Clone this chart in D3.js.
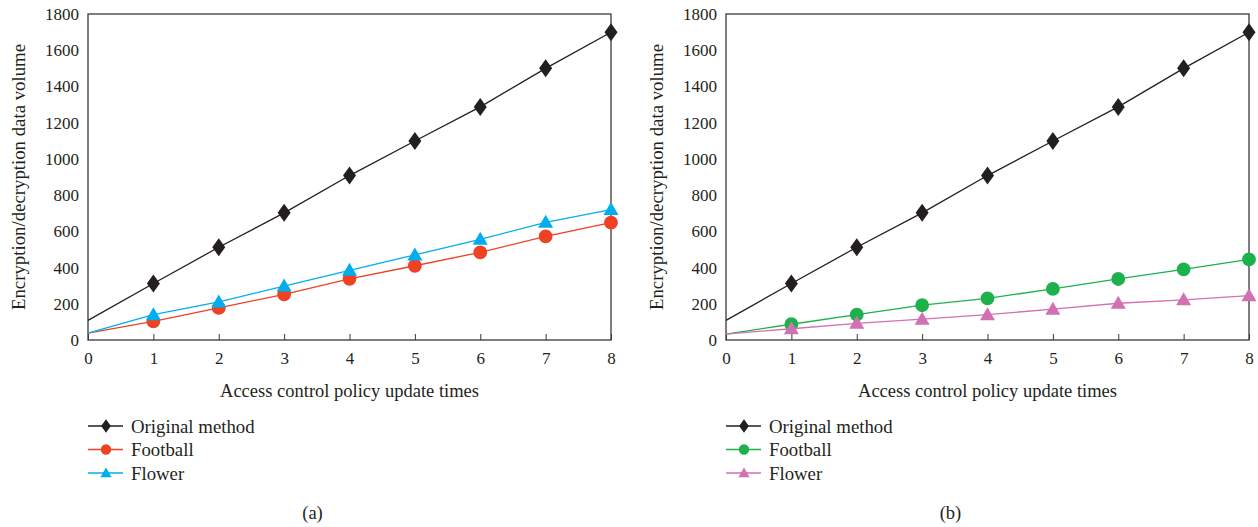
<!DOCTYPE html>
<html>
<head>
<meta charset="utf-8">
<script src="https://cdn.jsdelivr.net/npm/d3@7"></script>
<style>
  body { margin: 0; background: #fff; }
  svg text { font-family: "Liberation Serif", "Times New Roman", serif; fill: #231f20; }
</style>
</head>
<body>
<svg id="chart" width="1258" height="527"></svg>
<script>
// x values (update times), line runs from 0, markers from 1
const times = [0, 1, 2, 3, 4, 5, 6, 7, 8];
const yTicks = [0, 200, 400, 600, 800, 1000, 1200, 1400, 1600, 1800];

const originalA = [108, 312, 512, 702, 908, 1099, 1287, 1500, 1699];
const footballA = [38, 103, 177, 252, 338, 410, 484, 572, 648];
const flowerA   = [38, 140, 210, 298, 385, 470, 556, 650, 720];

const originalB = [108, 312, 512, 702, 908, 1099, 1287, 1500, 1699];
const footballB = [33, 87, 140, 192, 230, 282, 337, 390, 445];
const flowerB   = [33, 62, 92, 115, 140, 170, 203, 222, 245];

const seriesNames = ["Original method", "Football", "Flower"];

const svg = d3.select("#chart");

const shapes = {
  diamond: "M0,-9L6.5,0L0,9L-6.5,0Z",
  circle: d3.symbol().type(d3.symbolCircle).size(150)(),
  triangle: "M0,-7.5L7.5,5.5L-7.5,5.5Z"
};

function panel(left, right, series, caption) {
  const top = 14, bottom = 340;
  const x = d3.scaleLinear().domain([0, 8]).range([left, right]);
  const y = d3.scaleLinear().domain([0, 1800]).range([bottom, top]);
  const g = svg.append("g");

  // frame
  g.append("rect")
    .attr("x", left).attr("y", top)
    .attr("width", right - left).attr("height", bottom - top)
    .attr("fill", "none").attr("stroke", "#3a3a3a").attr("stroke-width", 1.3);

  // x ticks (inward)
  const xAxis = g.append("g")
    .attr("transform", `translate(0,${bottom})`)
    .call(d3.axisBottom(x).ticks(8).tickSize(-6).tickPadding(12));
  xAxis.select(".domain").remove();
  xAxis.selectAll("line").attr("stroke", "#3a3a3a");
  xAxis.selectAll("text").attr("font-size", 17).attr("font-family", "Liberation Serif").attr("fill", "#231f20");

  const yAxis = g.append("g")
    .attr("transform", `translate(${left},0)`)
    .call(d3.axisLeft(y).tickValues(yTicks).tickFormat(d3.format("d")).tickSize(0).tickPadding(9));
  yAxis.select(".domain").remove();
  yAxis.selectAll("text").attr("font-size", 17).attr("font-family", "Liberation Serif").attr("fill", "#231f20");

  const line = d3.line().x((d, i) => x(times[i])).y(d => y(d));

  series.forEach(s => {
    g.append("path")
      .datum(s.values)
      .attr("d", line)
      .attr("fill", "none")
      .attr("stroke", s.color)
      .attr("stroke-width", 1.3);
    g.selectAll(null)
      .data(s.values.slice(1))
      .enter()
      .append("path")
      .attr("d", shapes[s.shape])
      .attr("transform", (d, i) => `translate(${x(times[i + 1])},${y(d)})`)
      .attr("fill", s.color);
  });

  // axis titles
  g.append("text")
    .attr("x", (left + right) / 2)
    .attr("y", 397)
    .attr("text-anchor", "middle")
    .attr("font-size", 18.5)
    .text("Access control policy update times");

  g.append("text")
    .attr("transform", `translate(${left - 70},${(top + bottom) / 2}) rotate(-90)`)
    .attr("text-anchor", "middle")
    .attr("dy", "0.35em")
    .attr("font-size", 18.8)
    .text("Encryption/decryption data volume");

  // legend
  const lg = g.append("g").attr("transform", `translate(${left},426)`);
  series.forEach((s, i) => {
    const row = lg.append("g").attr("transform", `translate(0,${i * 23.5})`);
    row.append("line").attr("x1", 0).attr("x2", 35).attr("y1", 0).attr("y2", 0)
      .attr("stroke", s.color).attr("stroke-width", 1.3);
    row.append("path")
      .attr("d", shapes[s.shape])
      .attr("transform", "translate(18,0) scale(0.75)")
      .attr("fill", s.color);
    row.append("text").attr("x", 43).attr("dy", "0.35em")
      .attr("font-size", 18.8).text(seriesNames[i]);
  });

  g.append("text")
    .attr("x", (left + right) / 2 - 37)
    .attr("y", 513)
    .attr("dy", "0.35em")
    .attr("text-anchor", "middle")
    .attr("font-size", 18.5)
    .text(caption);
}

panel(88, 611, [
  { values: originalA, color: "#231f20", shape: "diamond" },
  { values: footballA, color: "#ef4123", shape: "circle" },
  { values: flowerA, color: "#00aeef", shape: "triangle" }
], "(a)");

panel(726, 1249, [
  { values: originalB, color: "#231f20", shape: "diamond" },
  { values: footballB, color: "#1db14b", shape: "circle" },
  { values: flowerB, color: "#d171b1", shape: "triangle" }
], "(b)");
</script>
</body>
</html>
